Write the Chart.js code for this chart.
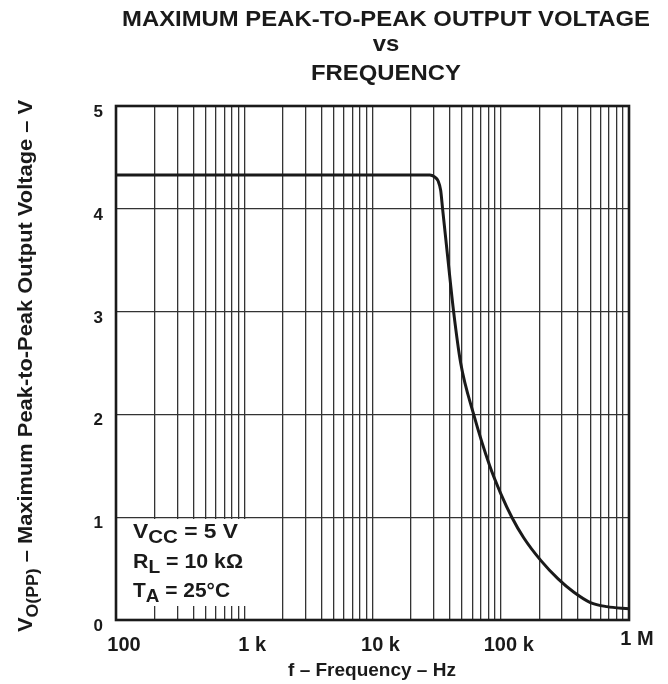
<!DOCTYPE html>
<html>
<head>
<meta charset="utf-8">
<script src="https://cdn.jsdelivr.net/npm/chart.js@4.4.1/dist/chart.umd.min.js"></script>
<style>
html, body { margin: 0; padding: 0; background: #fff; }
</style>
</head>
<body>
<canvas id="vpp" width="668" height="684"></canvas>
<script>
// curve: frequency (Hz) and peak-to-peak output (V)
var freq = [100, 10000, 28000, 30500, 32500, 34000, 35200, 38800, 42900, 48700, 61500, 82000, 100000, 122000, 151000, 205000, 280000, 372000, 500000, 672000, 1000000];
var vpp  = [4.33, 4.33, 4.33, 4.31, 4.27, 4.18, 4.00, 3.50, 3.00, 2.50, 2.00, 1.50, 1.23, 1.00, 0.80, 0.58, 0.40, 0.27, 0.17, 0.13, 0.11];

var xTickVals = [100, 1000, 10000, 100000, 1000000];
var xTickText = ["100", "1 k", "10 k", "100 k", "1 M"];
var yTickVals = [0, 1, 2, 3, 4, 5];
var yTickText = ["0", "1", "2", "3", "4", "5"];
var decades = [100, 1000, 10000, 100000];
var gridSteps = [1, 2, 3, 4, 5, 6, 7, 8, 9];

var titleLines = ["MAXIMUM PEAK-TO-PEAK OUTPUT VOLTAGE", "vs", "FREQUENCY"];
var xTitle = "f \u2013 Frequency \u2013 Hz";
var yTitle = [["V", 0], ["O(PP)", 1], [" \u2013 Maximum Peak-to-Peak Output Voltage \u2013 V", 0]];
var notes = [
  [["V", 0], ["CC", 1], [" = 5 V", 0]],
  [["R", 0], ["L", 1], [" = 10 k\u03A9", 0]],
  [["T", 0], ["A", 1], [" = 25\u00B0C", 0]]
];

var FONT = '"Liberation Sans", Arial, sans-serif';
function bold(px) { return 'bold ' + px + 'px ' + FONT; }

// draw a list of [text, isSub] runs, optionally stretched to a target width
function drawRuns(ctx, runs, x, y, size, subSize, subDy, target, align) {
  var w = 0, widths = [];
  runs.forEach(function (r) {
    ctx.font = bold(r[1] ? subSize : size);
    var m = ctx.measureText(r[0]).width;
    widths.push(m); w += m;
  });
  var sx = target ? target / w : 1;
  ctx.save();
  ctx.translate(x, y);
  ctx.scale(sx, 1);
  var cx = align === 'center' ? -w / 2 : 0;
  ctx.textAlign = 'left';
  ctx.textBaseline = 'alphabetic';
  runs.forEach(function (r, i) {
    ctx.font = bold(r[1] ? subSize : size);
    ctx.fillText(r[0], cx, r[1] ? subDy : 0);
    cx += widths[i];
  });
  ctx.restore();
}

var textPlugin = {
  id: 'textPlugin',
  beforeDatasetsDraw: function (chart) {
    var ctx = chart.ctx;
    // white box behind the conditions text
    ctx.save();
    ctx.fillStyle = '#fff';
    ctx.fillRect(118, 519, 138, 87);
    ctx.restore();
  },
  afterDraw: function (chart) {
    var ctx = chart.ctx, a = chart.chartArea;
    var xs = chart.scales.x, ys = chart.scales.y;
    ctx.save();
    ctx.fillStyle = '#1a1a1a';

    // plot frame
    ctx.strokeStyle = '#1a1a1a';
    ctx.lineWidth = 2.6;
    ctx.strokeRect(a.left, a.top, a.right - a.left, a.bottom - a.top);

    // title
    ctx.font = bold(22);
    var tw = ctx.measureText(titleLines[0]).width;
    var tsx = 528 / tw;
    [[titleLines[0], 26], [titleLines[1], 51], [titleLines[2], 80]].forEach(function (t) {
      ctx.save();
      ctx.translate(386, t[1]);
      ctx.scale(tsx, 1);
      ctx.font = bold(22);
      ctx.textAlign = 'center';
      ctx.fillText(t[0], 0, 0);
      ctx.restore();
    });

    // x tick labels
    ctx.font = bold(20);
    ctx.textAlign = 'center';
    xTickVals.forEach(function (v, i) {
      var px = xs.getPixelForValue(v) + 8;
      var by = (v === 1000000) ? 645 : 651;
      ctx.fillText(xTickText[i], px, by);
    });

    // y tick labels
    ctx.font = bold(17);
    ctx.textAlign = 'right';
    yTickVals.forEach(function (v, i) {
      ctx.fillText(yTickText[i], 103, ys.getPixelForValue(v) + 11);
    });

    // axis titles
    drawRuns(ctx, [[xTitle, 0]], 372, 676, 19, 15, 0, 0, 'center');
    ctx.save();
    ctx.translate(32, 366);
    ctx.rotate(-Math.PI / 2);
    drawRuns(ctx, yTitle, 0, 0, 21, 17, 6, 532, 'center');
    ctx.restore();

    // test conditions
    drawRuns(ctx, notes[0], 133, 538, 20, 18, 5, 105, 'left');
    drawRuns(ctx, notes[1], 133, 568, 20, 18, 5, 110, 'left');
    drawRuns(ctx, notes[2], 133, 597, 20, 18, 5, 97, 'left');
    ctx.restore();
  }
};

var points = [];
for (var i = 0; i < freq.length; i++) {
  points.push({ x: freq[i], y: vpp[i] });
}

var ctx = document.getElementById('vpp').getContext('2d');
var chart = new Chart(ctx, {
  type: 'line',
  data: {
    datasets: [{
      data: points,
      borderColor: '#1a1a1a',
      borderWidth: 3,
      pointRadius: 0,
      fill: false,
      cubicInterpolationMode: 'monotone'
    }]
  },
  options: {
    responsive: false,
    animation: false,
    layout: { padding: { left: 116, right: 39, top: 106, bottom: 64 } },
    plugins: { legend: { display: false }, tooltip: { enabled: false } },
    scales: {
      x: {
        type: 'logarithmic',
        min: 100,
        max: 1000000,
        afterBuildTicks: function (axis) {
          var t = [];
          decades.forEach(function (d) {
            gridSteps.forEach(function (s) { t.push({ value: d * s }); });
          });
          t.push({ value: 1000000 });
          axis.ticks = t;
        },
        ticks: { display: false },
        grid: { color: '#333333', lineWidth: 1.3, drawTicks: false },
        border: { display: false }
      },
      y: {
        min: 0,
        max: 5,
        ticks: { display: false, stepSize: 1 },
        grid: { color: '#333333', lineWidth: 1.3, drawTicks: false },
        border: { display: false }
      }
    }
  },
  plugins: [textPlugin]
});
</script>
</body>
</html>
